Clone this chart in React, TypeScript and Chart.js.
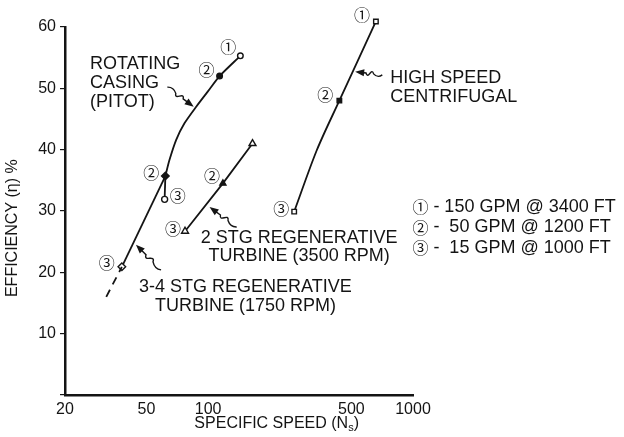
import React, { useEffect, useRef } from "react";
import { Chart, registerables } from "chart.js";

Chart.register(...registerables);

// ---- axis ticks ----
const xTickValues = [20, 50, 100, 500, 1000];
const yTickValues = [0, 10, 20, 30, 40, 50, 60];

// ---- Rotating casing (Pitot) ----
const rotatingSpeed = [61.3, 61.8, 64.7, 69.8, 76.6, 87.4, 99.7, 113.7, 143.6];
const rotatingEff = [31.9, 35.7, 38.3, 41.6, 44.3, 47.0, 49.5, 52.0, 55.3];
const rotatingTags = ["③", "", "", "", "", "", "", "②", "①"];

// ---- 3-4 stage regenerative turbine (1750 rpm) ----
const regen34Speed = [31.8, 37.9, 61.8];
const regen34Eff = [16.0, 20.9, 35.7];
const regen34Tags = ["", "③", "②"];

// ---- 2 stage regenerative turbine (3500 rpm) ----
const regen2Speed = [77.1, 118, 164.6];
const regen2Eff = [26.7, 34.5, 41.0];
const regen2Tags = ["③", "②", ""];

// ---- High speed centrifugal ----
const centSpeed = [263, 339, 437, 659];
const centEff = [29.9, 39.9, 48.0, 60.9];
const centTags = ["③", "", "②", "①"];

// ---- texts ----
const legendLines = ["① - 150 GPM @ 3400 FT", "② -  50 GPM @ 1200 FT", "③ -  15 GPM @ 1000 FT"];
const xTitleMain = "SPECIFIC SPEED (N";
const xTitleSub = "s";
const xTitleEnd = ")";
const yTitle = "EFFICIENCY (η) %";

const pts = (xs: number[], ys: number[], a = 0, b = xs.length) =>
  xs.slice(a, b).map((x, i) => ({ x, y: ys[a + i] }));

// annotation placement (data coordinates)
const notes = [
  { lines: ["ROTATING", "CASING", "(PITOT)"], x: 26.5, y: 54.0, align: "left", lh: 19 },
  { lines: ["HIGH SPEED", "CENTRIFUGAL"], x: 775, y: 51.7, align: "left", lh: 19 },
  { lines: ["2 STG REGENERATIVE", "TURBINE (3500 RPM)"], x: 278, y: 25.6, align: "center", lh: 18.5 },
  { lines: ["3-4 STG REGENERATIVE", "TURBINE (1750 RPM)"], x: 152, y: 17.6, align: "center", lh: 18.5 },
];
const leaders = [
  { from: [63.2, 50.2], to: [85.0, 47.0] },
  { from: [708, 52.2], to: [522, 52.7] },
  { from: [137.8, 27.4], to: [101.6, 30.65] },
  { from: [58.9, 20.4], to: [44.4, 24.5] },
];
const legendAnchor = { x: 993, y: 30.65, lh: 20.5 };

const TEXT_FONT = '"Liberation Sans", Arial, sans-serif';
const TAG_FONT = '"Noto Sans CJK JP", "DejaVu Sans", sans-serif';
const INK = "#141414";

function drawLeader(ctx: CanvasRenderingContext2D, x0: number, y0: number, x1: number, y1: number) {
  const dx = x1 - x0, dy = y1 - y0;
  const L = Math.hypot(dx, dy);
  const ux = dx / L, uy = dy / L;
  const nx = -uy, ny = ux;
  const w = 4;
  const p = (t: number, o: number): [number, number] => [x0 + dx * t + nx * o, y0 + dy * t + ny * o];
  ctx.beginPath();
  ctx.moveTo(x0, y0);
  ctx.quadraticCurveTo(...p(0.15, -w), ...p(0.32, 0));
  ctx.bezierCurveTo(...p(0.42, w * 1.8), ...p(0.5, -w * 1.8), ...p(0.6, 0));
  ctx.lineTo(x1 - ux * 6, y1 - uy * 6);
  ctx.stroke();
  ctx.beginPath();
  ctx.moveTo(x1, y1);
  ctx.lineTo(x1 - ux * 9 + nx * 3.5, y1 - uy * 9 + ny * 3.5);
  ctx.lineTo(x1 - ux * 9 - nx * 3.5, y1 - uy * 9 - ny * 3.5);
  ctx.closePath();
  ctx.fill();
}

const annotate = {
  id: "annotate",
  afterDatasetsDraw(chart: any) {
    const { ctx, chartArea } = chart;
    const xs = chart.scales.x;
    const ys = chart.scales.y;
    const px = (v: number) => xs.getPixelForValue(v);
    const py = (v: number) => ys.getPixelForValue(v);

    // draw point markers of unclipped datasets that sit outside the chart area
    chart.data.datasets.forEach((ds: any, di: number) => {
      if (ds.clip !== false) return;
      const meta = chart.getDatasetMeta(di);
      meta.data.forEach((el: any) => {
        if (el.y < chartArea.top || el.x > chartArea.right) el.draw(ctx);
      });
    });

    ctx.save();
    ctx.fillStyle = INK;
    ctx.strokeStyle = INK;

    // circled point tags
    const tagSets = [
      {
        xs: rotatingSpeed, ys: rotatingEff, tags: rotatingTags,
        dx: [13, 0, 0, 0, 0, 0, 0, -13, -12], dy: [-3, 0, 0, 0, 0, 0, 0, -6, -9],
      },
      { xs: regen34Speed, ys: regen34Eff, tags: regen34Tags, dx: [0, -15, -14], dy: [0, -4, -3] },
      { xs: regen2Speed, ys: regen2Eff, tags: regen2Tags, dx: [-12, -11, 0], dy: [-2, -7, 0] },
      { xs: centSpeed, ys: centEff, tags: centTags, dx: [-13, 0, -14, -14], dy: [-3, 0, -6, -7] },
    ];
    ctx.font = `16px ${TAG_FONT}`;
    ctx.textAlign = "center";
    ctx.textBaseline = "middle";
    for (const s of tagSets) {
      s.tags.forEach((t, i) => {
        if (!t) return;
        ctx.fillText(t, px(s.xs[i]) + s.dx[i], py(s.ys[i]) + s.dy[i]);
      });
    }

    // notes
    ctx.font = `18px ${TEXT_FONT}`;
    for (const n of notes) {
      ctx.textAlign = n.align as CanvasTextAlign;
      n.lines.forEach((line, i) => ctx.fillText(line, px(n.x), py(n.y) + i * n.lh));
    }

    // legend
    ctx.textAlign = "left";
    legendLines.forEach((line, i) => {
      const x0 = px(legendAnchor.x);
      const y0 = py(legendAnchor.y) + i * legendAnchor.lh;
      ctx.font = `16px ${TAG_FONT}`;
      ctx.fillText(line.slice(0, 1), x0, y0);
      ctx.font = `18px ${TEXT_FONT}`;
      ctx.fillText(line.slice(1), x0 + 16, y0);
    });

    // leaders
    ctx.lineWidth = 1.4;
    for (const l of leaders) {
      drawLeader(ctx, px(l.from[0]), py(l.from[1]), px(l.to[0]), py(l.to[1]));
    }

    // axis titles
    ctx.font = `16px ${TEXT_FONT}`;
    ctx.textAlign = "left";
    const wMain = ctx.measureText(xTitleMain).width;
    ctx.font = `11px ${TEXT_FONT}`;
    const wSub = ctx.measureText(xTitleSub).width;
    ctx.font = `16px ${TEXT_FONT}`;
    const wEnd = ctx.measureText(xTitleEnd).width;
    const total = wMain + wSub + wEnd;
    const cx = px(216);
    const ty = chartArea.bottom + 29;
    let x = cx - total / 2;
    ctx.fillText(xTitleMain, x, ty);
    x += wMain;
    ctx.font = `11px ${TEXT_FONT}`;
    ctx.fillText(xTitleSub, x, ty + 4);
    x += wSub;
    ctx.font = `16px ${TEXT_FONT}`;
    ctx.fillText(xTitleEnd, x, ty);

    ctx.save();
    ctx.translate(chartArea.left - 52, py(27.2));
    ctx.rotate(-Math.PI / 2);
    ctx.textAlign = "center";
    ctx.fillText(yTitle, 0, 0);
    ctx.restore();

    ctx.restore();
  },
};

export default function App() {
  const ref = useRef<HTMLCanvasElement | null>(null);

  useEffect(() => {
    if (!ref.current) return;
    const line = {
      type: "line" as const,
      borderColor: INK,
      borderWidth: 1.8,
      pointBorderColor: INK,
      pointBorderWidth: 1.4,
      fill: false,
      showLine: true,
    };
    const chart = new Chart(ref.current, {
      type: "line",
      data: {
        datasets: [
          {
            ...line,
            label: "Rotating casing stem",
            data: pts(rotatingSpeed, rotatingEff, 0, 2),
            pointRadius: [3, 0],
            pointBackgroundColor: "#fff",
          },
          {
            ...line,
            label: "Rotating casing (Pitot)",
            data: pts(rotatingSpeed, rotatingEff, 1),
            tension: 0.25,
            pointRadius: [0, 0, 0, 0, 0, 0, 2.8, 2.8],
            pointBackgroundColor: ["#fff", "#fff", "#fff", "#fff", "#fff", "#fff", INK, "#fff"],
          },
          {
            ...line,
            label: "3-4 STG dashed",
            data: pts(regen34Speed, regen34Eff, 0, 2),
            borderDash: [8, 6],
            pointRadius: 0,
          },
          {
            ...line,
            label: "3-4 STG Regenerative Turbine",
            data: pts(regen34Speed, regen34Eff, 1),
            pointStyle: "rectRot",
            pointRadius: [3.8, 3.8],
            pointBackgroundColor: ["#fff", INK],
          },
          {
            ...line,
            label: "2 STG Regenerative Turbine",
            data: pts(regen2Speed, regen2Eff),
            pointStyle: "triangle",
            pointRadius: [4, 3.5, 4],
            pointBackgroundColor: ["#fff", INK, "#fff"],
          },
          {
            ...line,
            label: "High speed centrifugal",
            data: pts(centSpeed, centEff),
            tension: 0.3,
            clip: false,
            pointStyle: "rect",
            pointRadius: [3.2, 0, 3.2, 3.2],
            pointBackgroundColor: ["#fff", "#fff", INK, "#fff"],
          },
        ] as any,
      },
      options: {
        animation: false,
        responsive: true,
        maintainAspectRatio: false,
        layout: { padding: { top: 27, right: 211, left: 0, bottom: 0 } },
        plugins: { legend: { display: false }, tooltip: { enabled: false } },
        scales: {
          x: {
            type: "logarithmic",
            min: 20,
            max: 1000,
            afterBuildTicks: (s: any) => {
              s.ticks = xTickValues.map((v) => ({ value: v }));
            },
            afterFit: (s: any) => {
              s.height = 42;
            },
            grid: { drawOnChartArea: false, drawTicks: false },
            border: { display: true, color: INK, width: 2.5 },
            ticks: {
              color: INK,
              padding: 5,
              autoSkip: false,
              maxRotation: 0,
              font: { family: TEXT_FONT, size: 16 },
              callback: (v: any) => String(v),
            },
          },
          y: {
            type: "linear",
            min: 0,
            max: 60,
            afterBuildTicks: (s: any) => {
              s.ticks = yTickValues.map((v) => ({ value: v }));
            },
            afterFit: (s: any) => {
              s.width = 65;
            },
            grid: { drawOnChartArea: false, drawTicks: true, tickLength: 5, color: INK, lineWidth: 1.2 },
            border: { display: true, color: INK, width: 2.5 },
            ticks: {
              color: INK,
              padding: 4,
              font: { family: TEXT_FONT, size: 16 },
              callback: (v: any) => (v === 0 ? "" : String(v)),
            },
          },
        },
      } as any,
      plugins: [annotate],
    });
    return () => chart.destroy();
  }, []);

  return (
    <div style={{ position: "fixed", left: 0, top: 0, width: 624, height: 437, background: "#fff" }}>
      <canvas ref={ref} />
    </div>
  );
}
